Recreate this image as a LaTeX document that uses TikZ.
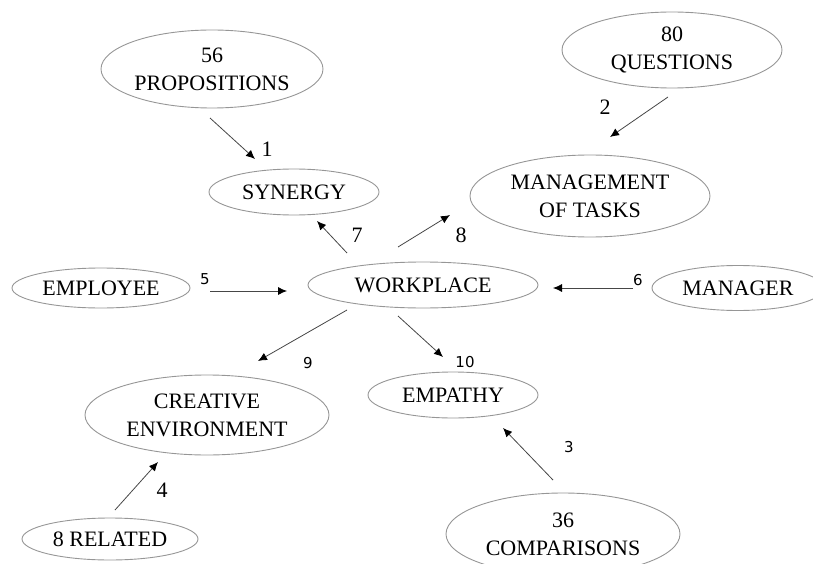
\documentclass[tikz,border=0pt]{standalone}
\usepackage{fontspec}
\setmainfont{Liberation Serif}
\newfontfamily\numfont{DejaVu Sans}
\usepackage{xcolor}
\usetikzlibrary{shapes.geometric,arrows.meta}
\definecolor{rimgray}{RGB}{150,150,150}
\definecolor{linkgray}{RGB}{70,70,70}

\begin{document}
\begin{tikzpicture}[x=1pt,y=-1pt,
  concept/.style={ellipse, draw=rimgray, line width=0.9pt, inner sep=0pt,
    align=center, font=\fontsize{22}{28}\selectfont},
  link/.style={draw=linkgray, line width=0.8pt, -{Latex[length=9pt,width=8pt,black]}},
  sernum/.style={font=\fontsize{22}{26}\selectfont},
  sansnum/.style={font=\numfont\fontsize{15}{18}\selectfont}]
\useasboundingbox (0,0) rectangle (813,564);

% concepts
\node[concept, minimum width=222pt, minimum height=78pt] (prop) at (212,69) {56\\PROPOSITIONS};
\node[concept, minimum width=220pt, minimum height=76pt] (quest) at (672,50) {80\\QUESTIONS};
\node[concept, minimum width=170pt, minimum height=46pt] (syn) at (294,192) {SYNERGY};
\node[concept, minimum width=240pt, minimum height=82pt] (mgmt) at (590,196) {MANAGEMENT\\OF TASKS};
\node[concept, minimum width=178pt, minimum height=40pt] (empl) at (101,288) {EMPLOYEE};
\node[concept, minimum width=230pt, minimum height=46pt] (work) at (423,285) {WORKPLACE};
\node[concept, minimum width=172pt, minimum height=45pt] (mgr) at (738,288) {MANAGER};
\node[concept, minimum width=244pt, minimum height=80pt] (creat) at (207,415) {CREATIVE\\ENVIRONMENT};
\node[concept, minimum width=170pt, minimum height=46pt] (emp) at (453,395) {EMPATHY};
\node[concept, minimum width=176pt, minimum height=42pt] (rel) at (110,539) {8 RELATED};
\node[concept, minimum width=234pt, minimum height=82pt] (comp) at (563,534) {36\\COMPARISONS};

% arrow ends
\coordinate (a1s) at (210,118);  \coordinate (a1e) at (255,159);
\coordinate (a2s) at (668,97);   \coordinate (a2e) at (610,137);
\coordinate (a3s) at (553,480);  \coordinate (a3e) at (503,428);
\coordinate (a4s) at (115,510);  \coordinate (a4e) at (158,462);
\coordinate (a5s) at (210,291);  \coordinate (a5e) at (287,291);
\coordinate (a6s) at (633,288);  \coordinate (a6e) at (553,288);
\coordinate (a7s) at (347,253);  \coordinate (a7e) at (317,221);
\coordinate (a8s) at (398,247);  \coordinate (a8e) at (450,215);
\coordinate (a9s) at (347,310);  \coordinate (a9e) at (258,361);
\coordinate (a10s) at (398,316); \coordinate (a10e) at (443,357);

\draw[link] (a1s) -- (a1e);
\draw[link] (a2s) -- (a2e);
\draw[link] (a3s) -- (a3e);
\draw[link] (a4s) -- (a4e);
\draw[link] (a5s) -- (a5e);
\draw[link] (a6s) -- (a6e);
\draw[link] (a7s) -- (a7e);
\draw[link] (a8s) -- (a8e);
\draw[link] (a9s) -- (a9e);
\draw[link] (a10s) -- (a10e);

% numbers
\node[sernum] (n1) at (267,149) {1};
\node[sernum] (n2) at (605,107) {2};
\node[sansnum] (n3) at (569,447) {3};
\node[sernum] (n4) at (162,490) {4};
\node[sansnum] (n5) at (205,279) {5};
\node[sansnum] (n6) at (638,280) {6};
\node[sernum] (n7) at (357,235) {7};
\node[sernum] (n8) at (461,235) {8};
\node[sansnum] (n9) at (308,363) {9};
\node[sansnum] (n10) at (465,362) {10};
\end{tikzpicture}
\end{document}
